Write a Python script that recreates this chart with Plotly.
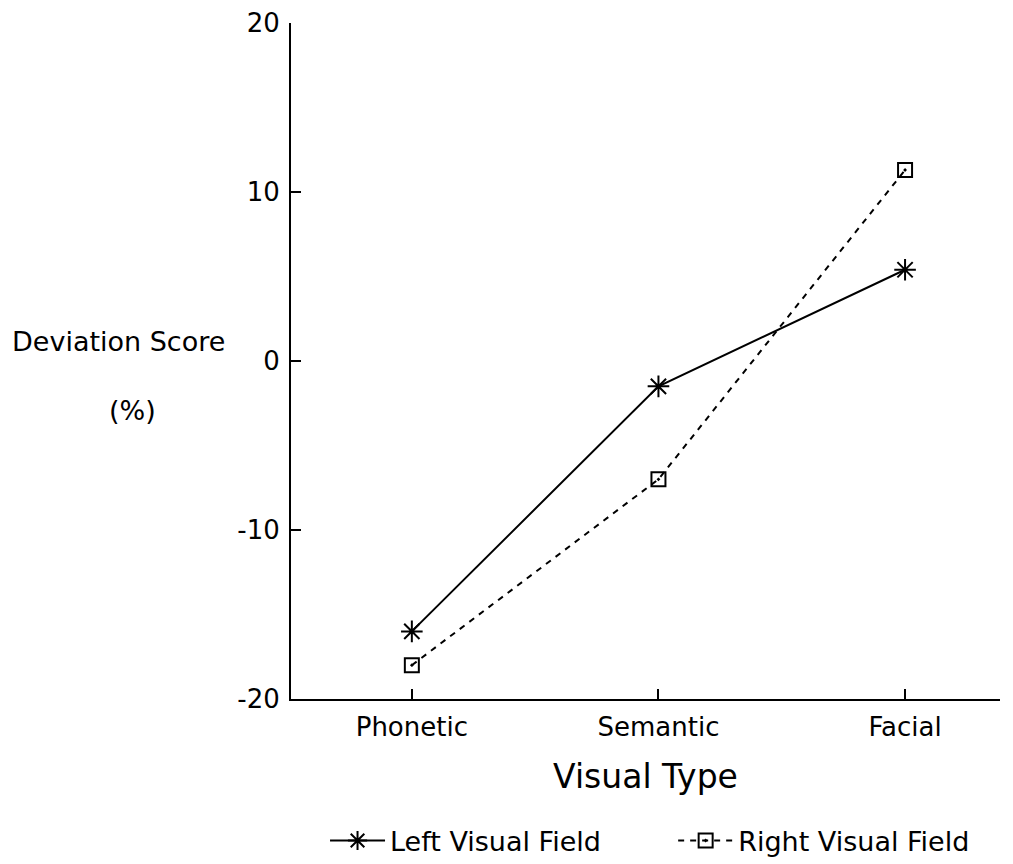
import plotly.graph_objects as go

categories = ["Phonetic", "Semantic", "Facial"]
left_field = [-16, -1.5, 5.4]
right_field = [-18, -7, 11.3]
y_ticks = [-20, -10, 0, 10, 20]
y_tick_text = ["-20", "-10", "0", "10", "20"]

FONT = "DejaVu Sans"

fig = go.Figure()
fig.add_trace(go.Scatter(
    x=categories, y=left_field, name="Left Visual Field",
    mode="lines+markers", legend="legend",
    line=dict(color="black", width=2),
    marker=dict(symbol="asterisk-open", size=18, color="black", line=dict(width=2, color="black")),
))
fig.add_trace(go.Scatter(
    x=categories, y=right_field, name="Right Visual Field",
    mode="lines+markers", legend="legend2",
    line=dict(color="black", width=2, dash="6px,6px"),
    marker=dict(symbol="square-open-dot", size=14, color="black", line=dict(width=2, color="black")),
))

legend_common = dict(orientation="h", xanchor="left", y=-0.21, yanchor="middle",
                     font=dict(size=27), itemwidth=55, bgcolor="rgba(0,0,0,0)")

fig.update_layout(
    width=1013, height=864,
    margin=dict(l=291, r=13, t=23, b=165, autoexpand=False),
    paper_bgcolor="white", plot_bgcolor="white",
    font=dict(family=FONT, size=26, color="black"),
    showlegend=True,
    legend=dict(x=0.048, **legend_common),
    legend2=dict(x=0.539, **legend_common),
    xaxis=dict(
        type="category", range=[-0.49, 2.385],
        showline=True, linecolor="black", linewidth=2,
        ticks="inside", ticklen=10, tickwidth=1.5, tickcolor="black",
        showgrid=False, zeroline=False,
        tickfont=dict(size=26), ticklabelstandoff=4,
        title=dict(text="Visual Type", font=dict(size=33), standoff=24),
    ),
    yaxis=dict(
        range=[-20, 20], tickvals=y_ticks, ticktext=y_tick_text,
        showline=True, linecolor="black", linewidth=2,
        ticks="inside", ticklen=10, tickwidth=1.5, tickcolor="black",
        showgrid=False, zeroline=False,
        tickfont=dict(size=26), ticklabelstandoff=4,
    ),
    annotations=[
        dict(text="Deviation Score", xref="paper", yref="paper", x=(10 - 291) / 709, y=(699 - 341) / 676,
             xanchor="left", yanchor="middle", showarrow=False, font=dict(size=27)),
        dict(text="(%)", xref="paper", yref="paper", x=(132 - 291) / 709, y=(699 - 410) / 676,
             xanchor="center", yanchor="middle", showarrow=False, font=dict(size=27)),
    ],
)

fig.write_html("out.html")
